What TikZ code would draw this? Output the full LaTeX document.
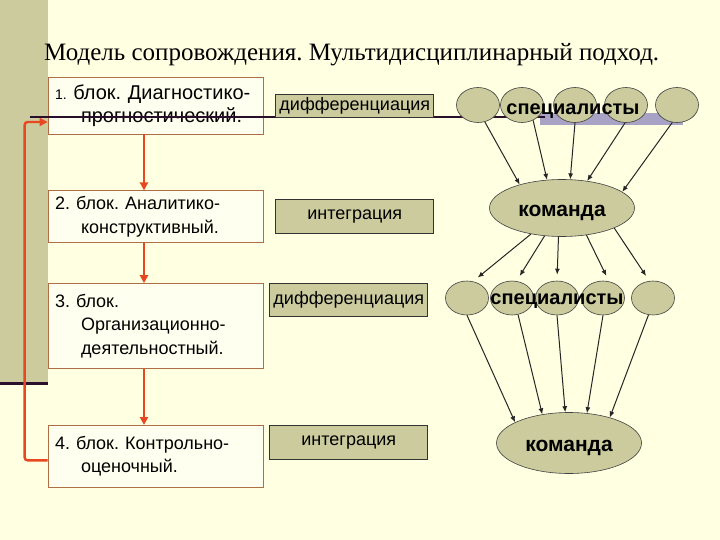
\documentclass[tikz,border=0pt]{standalone}
\usepackage{fontspec}
\setmainfont{Liberation Serif}
\setsansfont{Liberation Sans}
\frenchspacing
\usetikzlibrary{positioning,arrows.meta,shapes.geometric}
\definecolor{slidebg}{RGB}{255,255,226}
\definecolor{khaki}{RGB}{203,203,158}
\definecolor{boxline}{RGB}{176,110,70}
\definecolor{boxfill}{RGB}{255,255,240}
\definecolor{redline}{RGB}{232,72,32}
\definecolor{darkline}{RGB}{42,14,42}
\definecolor{lavender}{RGB}{168,162,196}
\tikzset{
  blok/.style ={rectangle, draw=boxline, fill=boxfill, line width=0.8pt,
                align=left, inner xsep=7pt, inner ysep=0pt,
                font=\sffamily\fontsize{18}{23.5}\selectfont,
                text width=201pt, minimum width=215pt},
  tag/.style  ={rectangle, draw=black!80, fill=khaki, line width=0.8pt,
                align=center, inner sep=0pt,
                font=\sffamily\fontsize{18}{20}\selectfont, minimum width=158pt},
  spec/.style ={ellipse, draw=black!75, fill=khaki, line width=0.6pt,
                minimum width=43pt, minimum height=35pt, inner sep=0pt},
  team/.style ={ellipse, draw=black!75, fill=khaki, line width=0.6pt,
                minimum width=145pt, minimum height=57pt, inner sep=0pt,
                text height=17pt, text depth=0pt,
                font=\sffamily\bfseries\fontsize{21}{23}\selectfont},
  lbl/.style  ={inner sep=0pt, text depth=0pt,
                font=\sffamily\bfseries\fontsize{20}{22}\selectfont},
  flow/.style ={-{Triangle[length=8pt,width=8pt]}, line width=2.4pt, draw=redline},
  arr/.style  ={-{Latex[length=6pt,width=5pt]}, line width=1pt, draw=black!85},
}
\newcommand{\brk}{\\\hspace*{26pt}}

\begin{document}
\begin{tikzpicture}[x=1pt, y=-1pt]
  % slide background
  \fill[slidebg] (0,0) rectangle (720,540);
  \useasboundingbox (0,0) rectangle (720,540);
  \fill[khaki] (0,0) rectangle (48,383);
  \draw[darkline, line width=3pt] (0,383) -- (48,383);

  % title
  \node[anchor=west, inner sep=0pt, font=\fontsize{25}{27}\selectfont] (title) at (44,55)
       {Модель сопровождения. Мультидисциплинарный подход.};

  % blocks
  \node[blok, minimum height=57pt, font=\sffamily\fontsize{20}{23}\selectfont]
       (box1) at (155.5,105.5)
       {{\fontsize{14}{23}\selectfont 1.} блок. Диагностико-\brk прогностический.};
  \node[blok, minimum height=52pt, below=56pt of box1] (box2)
       {2. блок. Аналитико-\brk конструктивный.};
  \node[blok, minimum height=85pt, below=40pt of box2] (box3)
       {3. блок.\brk Организационно-\brk деятельностный.};
  \node[blok, minimum height=62pt, below=56pt of box3] (box4)
       {4. блок. Контрольно-\brk оценочный.};

  % red flow
  \draw[flow] ([xshift=-11.5pt]box1.south) -- ([xshift=-11.5pt]box2.north);
  \draw[flow] ([xshift=-11.5pt]box2.south) -- ([xshift=-11.5pt]box3.north);
  \draw[flow] ([xshift=-11.5pt]box3.south) -- ([xshift=-11.5pt]box4.north);
  \draw[flow, rounded corners=3pt] ([yshift=-4pt]box4.west) -- ++(-23,0)
       |- ([yshift=-16.5pt]box1.west);

  % theme line
  \fill[lavender] (540,113) rectangle (683,125);
  \draw[darkline, line width=1.6pt] (30,117) -- (545,117);

  % tags
  \node[tag, minimum height=23pt, right=12pt of box1] (diff1) {дифференциация};
  \node[tag, minimum height=34pt, right=12pt of box2] (integ1) {интеграция};
  \node[tag, minimum height=33pt, right=6pt of box3.north east, anchor=north west]
       (diff2) {дифференциация};
  \node[tag, minimum height=34pt, right=6pt of box4.north east, anchor=north west]
       (integ2) {интеграция};

  % specialists, first row
  \node[spec] (sp1) at (478,105) {};
  \node[spec] (sp2) at (522,105) {};
  \node[spec] (sp3) at (575,105) {};
  \node[spec] (sp4) at (626,105) {};
  \node[spec] (sp5) at (677,105) {};
  \node[lbl] (spec1) at (573,109) {специалисты};
  \node[team] (team1) at (562,208) {команда};

  % specialists, second row
  \node[spec, minimum height=34pt] (sp6) at (467,298) {};
  \node[spec, minimum height=34pt] (sp7) at (512,298) {};
  \node[spec, minimum height=34pt] (sp8) at (557,298) {};
  \node[spec, minimum height=34pt] (sp9) at (603,298) {};
  \node[spec, minimum height=34pt] (sp10) at (653,298) {};
  \node[lbl] (spec2) at (557,299) {специалисты};
  \node[team, minimum height=61pt] (team2) at (569,443) {команда};

  % arrows
  \draw[arr] (sp1.-68) -- (team1.151);
  \draw[arr] (sp2.-54) -- (team1.118);
  \draw[arr] (sp3.-90) -- (team1.74);
  \draw[arr] (sp4.-93) -- (team1.47);
  \draw[arr] (sp5.-105) -- (team1.15);
  \draw[arr, shorten >=6pt] (team1.-140) -- (sp6.70);
  \draw[arr, shorten >=6pt] (team1.-122) -- (sp7.75);
  \draw[arr, shorten >=6pt] (team1.-97) -- (sp8.90);
  \draw[arr, shorten >=6pt] (team1.-48) -- (sp9.70);
  \draw[arr, shorten >=6pt] (team1.-21) -- (sp10.102);
  \draw[arr] (sp6.-90) -- (team2.159);
  \draw[arr] (sp7.-70) -- (team2.133);
  \draw[arr] (sp8.-90) -- (team2.97);
  \draw[arr] (sp9.-90) -- (team2.59);
  \draw[arr] (sp10.-105) -- (team2.32);
\end{tikzpicture}
\end{document}
